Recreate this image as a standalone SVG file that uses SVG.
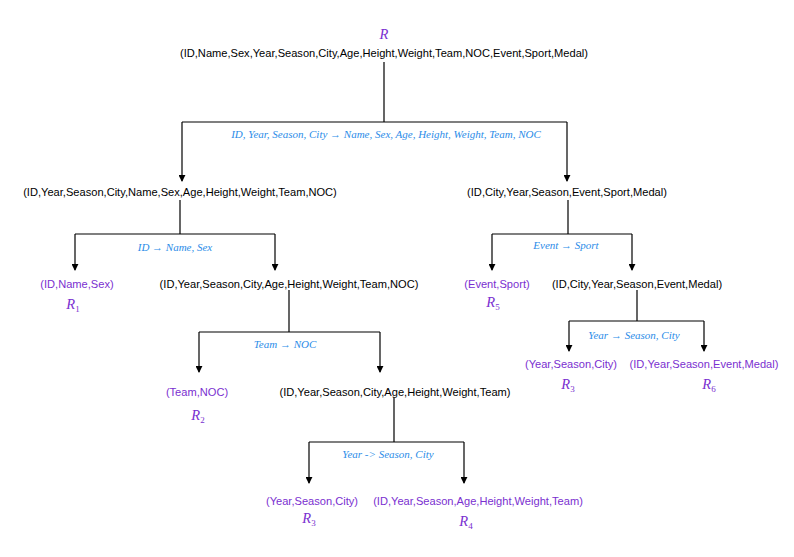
<svg xmlns="http://www.w3.org/2000/svg" width="794" height="557" viewBox="0 0 794 557">
<style>
.t{font-family:"Liberation Sans",Arial,sans-serif;font-size:11.1px;text-anchor:middle;fill:#000}
.p{fill:#7a2fd0}
.fd{font-family:"Liberation Serif","Times New Roman",serif;font-style:italic;font-size:11px;fill:#2b8ce8;text-anchor:middle}
.r{font-family:"Liberation Serif","Times New Roman",serif;font-style:italic;font-size:14.5px;fill:#7a2fd0;text-anchor:middle}
.r tspan{font-style:normal;font-size:9px}
.c{fill:none;stroke:#000;stroke-width:1.2}
</style>
<defs>
<marker id="ah" viewBox="0 0 8 8" refX="7" refY="4" markerWidth="7" markerHeight="7" markerUnits="userSpaceOnUse" orient="auto">
<path d="M0,0 L8,4 L0,8 Z" fill="#000"/>
</marker>
</defs>
<rect width="794" height="557" fill="#fff"/>
<g id="connectors">
<path class="c" d="M384,62 V122 M182,122 H567"/>
<path class="c" d="M182,122 V181" marker-end="url(#ah)"/>
<path class="c" d="M567,122 V181" marker-end="url(#ah)"/>
<path class="c" d="M180,200 V234 M75,234 H275"/>
<path class="c" d="M75,234 V270" marker-end="url(#ah)"/>
<path class="c" d="M275,234 V270" marker-end="url(#ah)"/>
<path class="c" d="M568,200 V234 M492,234 H632"/>
<path class="c" d="M492,234 V270" marker-end="url(#ah)"/>
<path class="c" d="M632,234 V270" marker-end="url(#ah)"/>
<path class="c" d="M289,290 V332 M199,332 H380"/>
<path class="c" d="M199,332 V372" marker-end="url(#ah)"/>
<path class="c" d="M380,332 V372" marker-end="url(#ah)"/>
<path class="c" d="M637,290 V321 M569,321 H704"/>
<path class="c" d="M569,321 V351" marker-end="url(#ah)"/>
<path class="c" d="M704,321 V351" marker-end="url(#ah)"/>
<path class="c" d="M394,398 V442 M309,442 H464"/>
<path class="c" d="M309,442 V483" marker-end="url(#ah)"/>
<path class="c" d="M464,442 V483" marker-end="url(#ah)"/>
<text class="fd" x="386" y="138">ID, Year, Season, City → Name, Sex, Age, Height, Weight, Team, NOC</text>
<text class="fd" x="175" y="251">ID → Name, Sex</text>
<text class="fd" x="566" y="249">Event → Sport</text>
<text class="fd" x="285" y="348">Team → NOC</text>
<text class="fd" x="634" y="339">Year → Season, City</text>
<text class="fd" x="388" y="458">Year -&gt; Season, City</text>
</g>
<g id="R">
<text class="r" x="384" y="39">R</text>
<text class="t" x="384" y="57">(ID,Name,Sex,Year,Season,City,Age,Height,Weight,Team,NOC,Event,Sport,Medal)</text>
</g>
<g id="n1"><text class="t" x="180" y="196">(ID,Year,Season,City,Name,Sex,Age,Height,Weight,Team,NOC)</text></g>
<g id="n2"><text class="t" x="567" y="196">(ID,City,Year,Season,Event,Sport,Medal)</text></g>
<g id="R1"><text class="t p" x="77" y="288">(ID,Name,Sex)</text><text class="r" x="73" y="309">R<tspan dy="3">1</tspan></text></g>
<g id="n3"><text class="t" x="289" y="288">(ID,Year,Season,City,Age,Height,Weight,Team,NOC)</text></g>
<g id="R5"><text class="t p" x="497" y="288">(Event,Sport)</text><text class="r" x="493" y="307">R<tspan dy="3">5</tspan></text></g>
<g id="n4"><text class="t" x="637" y="288">(ID,City,Year,Season,Event,Medal)</text></g>
<g id="R3a"><text class="t p" x="571" y="368">(Year,Season,City)</text><text class="r" x="568" y="389">R<tspan dy="3">3</tspan></text></g>
<g id="R6"><text class="t p" x="704" y="368">(ID,Year,Season,Event,Medal)</text><text class="r" x="709" y="389">R<tspan dy="3">6</tspan></text></g>
<g id="R2"><text class="t p" x="197" y="396">(Team,NOC)</text><text class="r" x="198" y="420">R<tspan dy="3">2</tspan></text></g>
<g id="n5"><text class="t" x="395" y="396">(ID,Year,Season,City,Age,Height,Weight,Team)</text></g>
<g id="R3b"><text class="t p" x="312" y="505">(Year,Season,City)</text><text class="r" x="309" y="523">R<tspan dy="3">3</tspan></text></g>
<g id="R4"><text class="t p" x="478" y="505">(ID,Year,Season,Age,Height,Weight,Team)</text><text class="r" x="466" y="526">R<tspan dy="3">4</tspan></text></g>
</svg>
